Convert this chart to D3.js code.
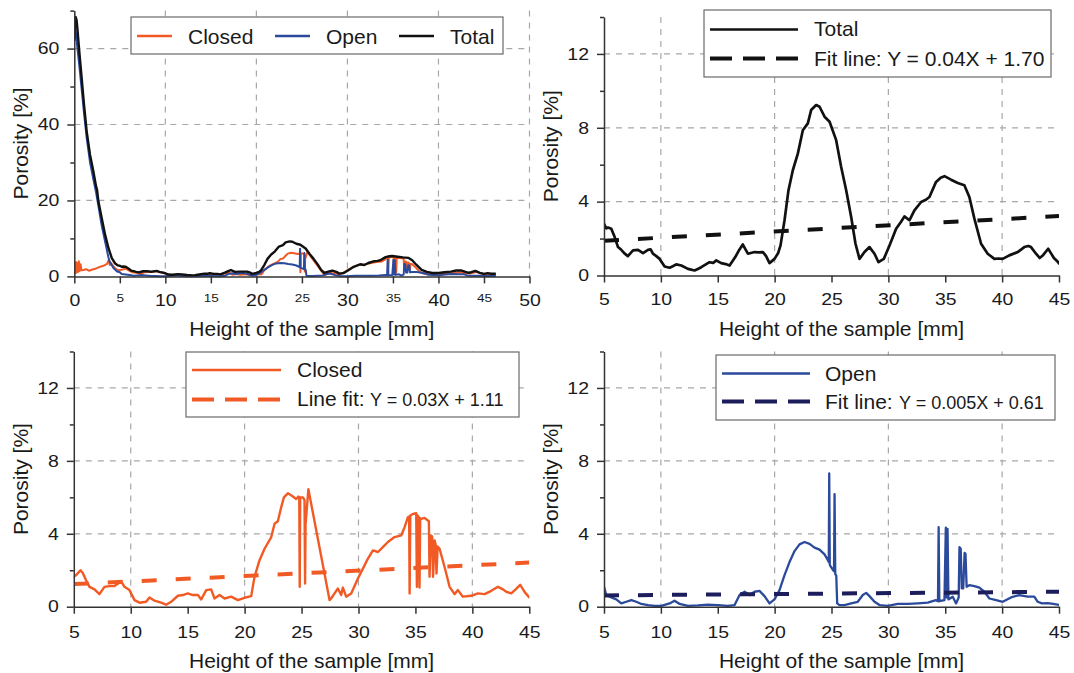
<!DOCTYPE html>
<html>
<head>
<meta charset="utf-8">
<script src="https://cdn.jsdelivr.net/npm/d3@7"></script>
<style>
  body { margin: 0; background: #fff; }
  text { font-family: "Liberation Sans", Arial, sans-serif; fill: #1a1a1a; }
</style>
</head>
<body>
<svg id="chart" width="1074" height="673"></svg>
<script>
// ---- data: [height mm, porosity %] ----
const totalPts = [[0,62],[0.08,66.5],[0.15,68.3],[0.25,67.5],[0.33,65.5],[0.55,59.2],[0.81,52.2],[1.07,45.2],[1.36,38.2],[1.73,32],[2.1,27.6],[2.39,23.7],[2.5,22.8],[2.65,19.7],[3.01,15.4],[3.38,11],[3.75,7.5],[4.12,4.8],[4.49,3.4],[4.8,2.9],
  [5,2.8],[5.2,2.55],[5.35,2.6],[5.64,2.53],[5.94,2.08],[6.23,1.54],[6.52,1.39],[6.8,1.2],[7.1,1.05],[7.55,1.36],[7.99,1.39],[8.43,1.21],[8.87,1.39],[9.1,1.42],[9.3,1.18],[9.6,1.05],[9.89,0.9],[10.33,0.49],[10.77,0.42],[11.05,0.5],[11.35,0.6],[11.8,0.54],[12.38,0.36],[12.96,0.27],[13.25,0.35],[13.55,0.45],[14.28,0.72],[14.6,0.68],[14.87,0.82],[15.3,0.67],[15.7,0.62],[16.04,0.54],[16.54,1.0],[16.9,1.4],[17.2,1.68],[17.45,1.4],[17.65,1.18],[18.24,1.27],[18.6,1.25],[18.97,1.27],[19.25,1.05],[19.55,0.67],[19.99,0.9],[20.3,1.2],[20.52,1.63],[20.87,2.99],[21.22,4.62],[21.6,5.7],[22.04,6.6],[22.48,7.87],[22.92,8.24],[23.21,8.96],[23.65,9.23],[23.95,9.14],[24.39,8.6],[24.83,8.33],[25.41,7.33],[25.85,5.88],[26.29,4.62],[26.73,3.17],[27.11,1.72],[27.46,0.9],[27.9,1.27],[28.34,1.54],[28.78,1.18],[29.13,0.72],[29.6,0.9],[30.1,1.63],[30.68,2.53],[31.1,2.9],[31.41,3.2],[31.85,2.99],[32.29,3.53],[32.88,3.98],[33.3,4.1],[33.61,4.25],[34.19,5.07],[34.6,5.3],[34.93,5.38],[35.51,5.19],[36.1,5.01],[36.68,4.89],[37.12,4.25],[37.56,3.08],[38.15,1.72],[38.73,1.18],[39.32,0.9],[39.7,0.92],[40.05,0.9],[40.63,1.09],[41.37,1.27],[41.95,1.54],[42.3,1.6],[42.54,1.54],[42.98,1.18],[43.3,0.95],[43.6,1.1],[44.05,1.45],[44.3,1.2],[44.55,0.95],[44.8,0.8],[45,0.65],[45.4,0.85],[45.8,0.7],[46.3,0.7]];

const closedPts = [[0,0.5],[0.05,3.2],[0.1,0.8],[0.18,3.8],[0.25,1.0],[0.33,3.5],[0.42,1.2],[0.5,4.0],[0.58,1.4],[0.68,3.2],[0.8,1.6],[1.0,1.7],[1.3,1.9],[1.6,1.5],[2.0,1.8],[2.4,2.1],[2.8,2.5],[3.2,2.8],[3.6,3.3],[3.8,4.4],[3.9,3.0],[4.05,3.5],[4.3,2.6],[4.6,1.9],[4.82,1.6],
  [5.2,1.73],[5.59,2.0],[5.79,1.85],[6.08,1.45],[6.38,1.09],[6.82,0.95],[7.25,0.69],[7.69,1.09],[8.13,1.13],[8.57,1.13],[9.0,1.31],[9.2,1.35],[9.45,1.09],[9.89,0.91],[10.33,0.36],[10.77,0.22],[11.35,0.27],[11.65,0.51],[12.09,0.33],[12.67,0.22],[13.11,0.11],[13.55,0.27],[14.14,0.6],[14.58,0.64],[15.01,0.73],[15.45,0.64],[15.9,0.64],[16.19,0.4],[16.63,0.91],[17.06,0.95],[17.36,0.45],[17.8,0.64],[18.24,0.45],[18.82,0.55],[19.41,0.36],[19.99,0.49],[20.58,0.58],[20.87,1.64],[21.31,2.55],[21.75,3.18],[22.34,3.82],[22.63,4.55],[22.92,4.69],[23.21,5.45],[23.45,6.0],[23.8,6.22],[24.15,6.09],[24.53,5.91],[24.72,6.04],[24.8,6.0],[24.84,1.09],[24.88,6.0],[25.12,6.0],[25.26,5.85],[25.31,1.27],[25.35,4.5],[25.6,6.45],[27.46,0.36],[27.6,0.45],[27.9,0.73],[28.19,1.0],[28.48,0.64],[28.63,1.05],[28.92,0.55],[29.36,0.73],[29.95,1.55],[30.39,2.09],[30.83,2.64],[31.27,3.09],[31.71,3.0],[32.14,3.27],[32.58,3.55],[33.17,3.82],[33.75,3.91],[34.05,4.36],[34.34,4.91],[34.45,4.95],[34.49,0.73],[34.55,5.0],[34.78,5.09],[35.07,5.13],[35.13,1.09],[35.2,5.0],[35.3,4.9],[35.36,1.05],[35.42,4.85],[35.51,4.82],[35.8,4.87],[36.1,4.73],[36.18,4.7],[36.24,1.64],[36.35,3.91],[36.47,3.85],[36.55,1.64],[36.68,3.64],[36.78,3.4],[36.85,1.82],[36.95,3.3],[37.12,3.18],[37.56,2.18],[38.0,1.09],[38.44,0.69],[38.73,0.91],[39.17,0.55],[39.9,0.6],[40.49,0.73],[41.08,0.69],[41.66,0.87],[42.25,1.09],[42.69,0.95],[42.98,0.82],[43.42,0.73],[43.8,0.95],[44.2,1.2],[44.6,0.8],[45,0.5],[45.5,0.55],[46.3,0.5]];

const openPts = [[0,62.5],[0.1,65.5],[0.2,63.5],[0.35,60],[0.55,55.5],[0.8,49.5],[1.07,43],[1.36,36.5],[1.73,30],[2.1,25.5],[2.4,22],[2.65,18.5],[3.0,13.5],[3.4,9.0],[3.75,5.0],[3.9,3.8],[4.3,2.2],[4.7,1.3],[4.82,1.24],
  [5.0,1.09],[5.2,0.64],[5.64,0.51],[6.08,0.4],[6.52,0.18],[6.96,0.27],[7.4,0.36],[7.84,0.27],[8.28,0.15],[8.87,0.09],[9.45,0.04],[10.04,0.05],[10.77,0.18],[11.2,0.33],[11.65,0.15],[12.38,0.05],[13.26,0.07],[14.14,0.11],[15.01,0.09],[15.89,0.05],[16.48,0.09],[16.92,0.64],[17.36,0.82],[17.8,0.64],[18.24,0.82],[18.67,0.87],[19.11,0.58],[19.55,0.18],[19.99,0.4],[20.43,0.91],[20.87,1.73],[21.31,2.45],[21.75,3.05],[22.19,3.42],[22.63,3.55],[23.07,3.45],[23.51,3.24],[23.95,3.13],[24.39,2.87],[24.68,2.55],[24.76,2.45],[24.8,7.31],[24.85,2.3],[24.95,2.18],[25.15,2.0],[25.22,1.95],[25.27,6.18],[25.33,1.8],[25.42,1.7],[25.5,0.18],[25.7,0.09],[26.14,0.09],[26.73,0.18],[27.31,0.27],[27.75,0.64],[28.05,0.76],[28.34,0.58],[28.78,0.27],[29.22,0.09],[29.95,0.05],[30.83,0.15],[31.71,0.15],[32.58,0.18],[33.46,0.22],[34.19,0.36],[34.36,0.3],[34.42,4.36],[34.48,0.3],[34.93,0.36],[35.05,4.33],[35.12,0.5],[35.2,4.27],[35.28,0.4],[35.66,0.55],[35.95,0.18],[36.18,0.5],[36.25,3.27],[36.36,3.18],[36.45,1.0],[36.58,1.0],[36.7,2.95],[36.78,2.9],[36.88,1.09],[37.12,1.18],[37.56,1.13],[38.0,1.05],[38.44,0.82],[38.88,0.45],[39.47,0.36],[40.05,0.27],[40.78,0.51],[41.51,0.64],[42.25,0.55],[42.83,0.55],[43.13,0.27],[43.5,0.18],[44.0,0.2],[44.5,0.15],[45,0.1],[45.6,0.1],[46.3,0.08]];

// fitted lines as drawn (end points)
const fitTotal  = [[5, 1.88], [45, 3.22]];
const fitClosed = [[5, 1.24], [45, 2.42]];
const fitOpen   = [[5, 0.62], [45, 0.82]];

// tick values
const overviewXTicks = d3.range(0, 51, 5);
const overviewYMajor = [0, 20, 40, 60];
const overviewYMinor = [10, 30, 50, 70];
const detailXTicks = d3.range(5, 46, 5);
const detailYMajor = [0, 4, 8, 12];
const detailYMinor = [2, 6, 10, 14];

const cClosed = "#f15a24", cOpen = "#2b4a9c", cOpenFit = "#1c1e5c", cTotal = "#111";
const stretch = 1.18;   // tick labels are drawn wide in the original

const svg = d3.select("#chart");
const defs = svg.append("defs");

function drawPanel(o) {
  const x = d3.scaleLinear().domain(o.xDom).range([o.left, o.right]);
  const y = d3.scaleLinear().domain(o.yDom).range([o.bottom, o.top]);
  const g = svg.append("g");

  // dashed grid
  g.selectAll(".hg").data(o.yGrid).join("line")
    .attr("x1", o.left).attr("x2", o.right)
    .attr("y1", d => y(d)).attr("y2", d => y(d))
    .attr("stroke", "#a8a8a8").attr("stroke-width", 1.2).attr("stroke-dasharray", "6,6");
  g.selectAll(".vg").data(o.xGrid).join("line")
    .attr("x1", d => x(d)).attr("x2", d => x(d))
    .attr("y1", o.top).attr("y2", o.bottom)
    .attr("stroke", "#a8a8a8").attr("stroke-width", 1.2).attr("stroke-dasharray", "6,6");

  // series, clipped to the plot area
  defs.append("clipPath").attr("id", "clip-" + o.id)
    .append("rect").attr("x", o.left).attr("y", o.top - 6)
    .attr("width", o.right - o.left).attr("height", o.bottom - o.top + 8);
  const line = d3.line().x(d => x(d[0])).y(d => y(d[1]));
  const lg = g.append("g").attr("clip-path", "url(#clip-" + o.id + ")");
  o.series.forEach(s => {
    lg.append("path").datum(s.pts)
      .attr("d", line).attr("fill", "none")
      .attr("stroke", s.color).attr("stroke-width", s.width)
      .attr("stroke-linejoin", "round")
      .attr("stroke-dasharray", s.dash || null);
  });

  // axes
  const yAx = g.append("g").attr("transform", `translate(${o.left},0)`)
    .call(d3.axisLeft(y).tickValues(o.yMajor).tickSize(7).tickPadding(8).tickSizeOuter(0));
  g.append("g").attr("transform", `translate(${o.left},0)`)
    .call(d3.axisLeft(y).tickValues(o.yMinor).tickSize(4).tickFormat("").tickSizeOuter(0))
    .select(".domain").remove();
  yAx.selectAll("text")
    .attr("font-size", 16.5)
    .attr("x", -15 / stretch)
    .attr("transform", `scale(${stretch},1)`);

  const xAx = g.append("g").attr("transform", `translate(0,${o.bottom})`)
    .call(d3.axisBottom(x).tickValues(o.xTicks).tickSize(7).tickPadding(o.xPad).tickSizeOuter(0));
  xAx.selectAll("text")
    .attr("font-size", d => o.smallX && d % 10 !== 0 ? 11.5 : 16.5)
    .attr("transform", `scale(${stretch},1)`);

  g.selectAll(".domain, .tick line").attr("stroke", "#333").attr("stroke-width", 1.5);
  g.selectAll(".tick text").attr("fill", "#1a1a1a").attr("font-family", "Liberation Sans, Arial, sans-serif");

  // axis titles
  g.append("text")
    .attr("x", (o.left + o.right) / 2 + 10).attr("y", o.bottom + o.xTitleDy)
    .attr("text-anchor", "middle").attr("font-size", 21)
    .text("Height of the sample [mm]");
  g.append("text")
    .attr("transform", `translate(${o.left - 46},${(o.top + o.bottom) / 2}) rotate(-90)`)
    .attr("text-anchor", "middle").attr("font-size", 21)
    .text("Porosity [%]");
  return g;
}

function legendBox(x0, y0, x1, y1) {
  svg.append("rect").attr("x", x0).attr("y", y0).attr("width", x1 - x0).attr("height", y1 - y0)
    .attr("fill", "#fff").attr("stroke", "#6a6a6a").attr("stroke-width", 1.2);
}
function legendLine(x1, x2, yy, color, width, dash) {
  svg.append("line").attr("x1", x1).attr("x2", x2).attr("y1", yy).attr("y2", yy)
    .attr("stroke", color).attr("stroke-width", width).attr("stroke-dasharray", dash || null);
}
function legendText(xx, yy, label, eq, eqX) {
  const t = svg.append("text").attr("x", xx).attr("y", yy).attr("font-size", 21).text(label);
  if (eq) t.append("tspan").attr("x", eqX).attr("font-size", eq.size).text(eq.text);
}

// ---- top left: full profile ----
drawPanel({
  id: "tl", left: 74.3, right: 529.5, top: 10.6, bottom: 276.4,
  xDom: [0, 50], yDom: [0, 70],
  xTicks: overviewXTicks, smallX: true, xPad: 10.5,
  yMajor: overviewYMajor, yMinor: overviewYMinor,
  xGrid: [10, 20, 30, 40, 50], yGrid: [20, 40, 60],
  xTitleDy: 59.5,
  series: [
    { pts: closedPts, color: cClosed, width: 2 },
    { pts: openPts, color: cOpen, width: 2 },
    { pts: totalPts, color: cTotal, width: 2.4 }
  ]
});
legendBox(131, 17, 503, 54);
legendLine(137, 172, 36, cClosed, 2.5);
legendText(188, 43.5, "Closed");
legendLine(275, 310, 36, cOpen, 2.5);
legendText(326, 43.5, "Open");
legendLine(399, 434, 36, cTotal, 2.5);
legendText(450, 43.5, "Total");

// ---- top right: total ----
drawPanel({
  id: "tr", left: 604, right: 1059, top: 17, bottom: 275.5,
  xDom: [5, 45], yDom: [0, 14],
  xTicks: detailXTicks, smallX: false, xPad: 11,
  yMajor: detailYMajor, yMinor: detailYMinor,
  xGrid: [10, 20, 30, 40], yGrid: [4, 8, 12],
  xTitleDy: 60,
  series: [
    { pts: totalPts, color: cTotal, width: 2.7 },
    { pts: fitTotal, color: cTotal, width: 4, dash: "15,19" }
  ]
});
legendBox(704, 10, 1051, 77);
legendLine(710, 798, 29.5, cTotal, 2.5);
legendText(814, 36, "Total");
legendLine(710, 798, 58.5, cTotal, 4, "22,11");
legendText(814, 66, "Fit line: Y = 0.04X + 1.70");

// ---- bottom left: closed ----
drawPanel({
  id: "bl", left: 73.8, right: 529.3, top: 351.5, bottom: 606.7,
  xDom: [5, 45], yDom: [0, 14],
  xTicks: detailXTicks, smallX: false, xPad: 13,
  yMajor: detailYMajor, yMinor: detailYMinor,
  xGrid: [10, 20, 30, 40], yGrid: [4, 8, 12],
  xTitleDy: 61,
  series: [
    { pts: closedPts, color: cClosed, width: 2.4 },
    { pts: fitClosed, color: cClosed, width: 4, dash: "15,19" }
  ]
});
legendBox(186, 352, 519, 417);
legendLine(192, 281, 370, cClosed, 2.5);
legendText(297, 377, "Closed");
legendLine(192, 281, 399.5, cClosed, 4, "22,11");
legendText(297, 406, "Line fit:", { text: "Y = 0.03X + 1.11", size: 18 }, 370);

// ---- bottom right: open ----
drawPanel({
  id: "br", left: 604, right: 1059, top: 351.5, bottom: 606.7,
  xDom: [5, 45], yDom: [0, 14],
  xTicks: detailXTicks, smallX: false, xPad: 13,
  yMajor: detailYMajor, yMinor: detailYMinor,
  xGrid: [10, 20, 30, 40], yGrid: [4, 8, 12],
  xTitleDy: 61,
  series: [
    { pts: openPts, color: cOpen, width: 2.3 },
    { pts: fitOpen, color: cOpenFit, width: 4, dash: "15,19" }
  ]
});
legendBox(716, 355, 1055, 420);
legendLine(722, 810, 373.5, cOpen, 2.5);
legendText(825, 381, "Open");
legendLine(722, 810, 401.5, cOpenFit, 4, "22,11");
legendText(825, 409, "Fit line:", { text: "Y = 0.005X + 0.61", size: 18 }, 899);
</script>
</body>
</html>
